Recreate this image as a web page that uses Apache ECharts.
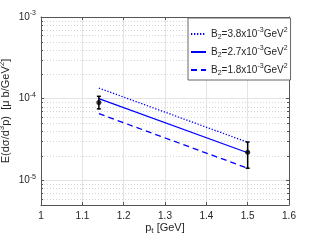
<!DOCTYPE html>
<html><head><meta charset="utf-8">
<script src="https://cdn.jsdelivr.net/npm/echarts@6/dist/echarts.min.js"></script>
<style>html,body{margin:0;padding:0;background:#fff}#c{width:320px;height:240px}</style>
</head><body><div id="c"></div>
<script>
// ---- data ----
const linePt = [1.14, 1.5];
const b38 = [1.35e-4, 2.93e-5];
const b27 = [1.0e-4, 2.18e-5];
const b18 = [6.56e-5, 1.41e-5];
const dataPt = [1.14, 1.5];
const dataVal = [9.0e-5, 2.21e-5];
const dataLo = [7.5e-5, 1.41e-5];
const dataHi = [1.07e-4, 2.95e-5];
const b2Labels = ['3.8', '2.7', '1.8'];
const xMin = 1, xMax = 1.6, xStep = 0.1;
const yMin = 5e-6, yMax = 1e-3;
const minorY = [6e-6, 7e-6, 8e-6, 9e-6,
  2e-5, 3e-5, 4e-5, 5e-5, 6e-5, 7e-5, 8e-5, 9e-5,
  2e-4, 3e-4, 4e-4, 5e-4, 6e-4, 7e-4, 8e-4, 9e-4];

const FONT = 'Liberation Sans';
const AX = '#555';
const TXT = '#262626';
const BLUE = '#0000ff';

const seriesNames = b2Labels.map(v => 'B2=' + v);
const richT = {
  b: {fontSize: 10, lineHeight: 14, fontFamily: FONT, color: TXT, verticalAlign: 'middle'},
  sub: {fontSize: 7, lineHeight: 7, fontFamily: FONT, color: TXT, verticalAlign: 'bottom'},
  sup: {fontSize: 7, lineHeight: 8, fontFamily: FONT, color: TXT, verticalAlign: 'top'},
  n: {fontSize: 11, lineHeight: 15, fontFamily: FONT, color: TXT, verticalAlign: 'middle'},
  nsub: {fontSize: 8, lineHeight: 7, fontFamily: FONT, color: TXT, verticalAlign: 'bottom'},
  nsup: {fontSize: 8, lineHeight: 9, fontFamily: FONT, color: TXT, verticalAlign: 'top'}
};

function mk(arr, xs) { return arr.map((v, i) => [xs[i], v]); }

const chart = echarts.init(document.getElementById('c'), null, {renderer: 'canvas'});
const option = {
  backgroundColor: '#fff',
  animation: false,
  textStyle: {fontFamily: FONT},
  grid: {left: 41, right: 31, top: 17, bottom: 35, containLabel: false, outerBoundsMode: 'none'},
  legend: {
    orient: 'vertical', left: 188, top: 18,
    padding: [9, 3, 3, 2], itemGap: 4,
    itemWidth: 15, itemHeight: 14,
    backgroundColor: '#fff', borderColor: '#666', borderWidth: 1,
    itemStyle: {opacity: 0},
    data: seriesNames,
    formatter: function (name) {
      const i = seriesNames.indexOf(name);
      return '{b|B}{sub|2}{b|=' + b2Labels[i] + 'x10}{sup|-3}{b|GeV}{sup|2}';
    },
    textStyle: {rich: richT}
  },
  xAxis: [{
    type: 'value', min: xMin, max: xMax, interval: xStep,
    name: '{n|p}{nsub|t}{n| [GeV]}', nameLocation: 'middle', nameGap: 15,
    nameMoveOverlap: false,
    nameTextStyle: {rich: richT},
    axisLine: {show: true, lineStyle: {color: AX, width: 1}},
    axisTick: {show: true, inside: true, length: 3, lineStyle: {color: AX}},
    axisLabel: {margin: 6, fontSize: 10, color: TXT, fontFamily: FONT},
    splitLine: {show: true, lineStyle: {color: '#e3e3e3', width: 1}}
  }, {
    type: 'value', min: xMin, max: xMax, interval: xStep, position: 'top',
    axisLine: {show: true, lineStyle: {color: AX, width: 1}},
    axisTick: {show: true, inside: true, length: 3, lineStyle: {color: AX}},
    axisLabel: {show: false}, splitLine: {show: false}
  }],
  yAxis: [{
    type: 'log', logBase: 10, min: yMin, max: yMax,
    name: '{n|E(dσ/d}{nsup|3}{n|p)  [μ b/GeV}{nsup|2}{n|]}',
    nameLocation: 'middle', nameGap: 28, nameRotate: 90,
    nameMoveOverlap: false,
    nameTextStyle: {rich: richT},
    axisLine: {show: true, lineStyle: {color: AX, width: 1}},
    axisTick: {show: true, inside: true, length: 3, lineStyle: {color: AX}},
    axisLabel: {
      margin: 5, color: TXT,
      formatter: function (v) {
        const e = Math.log10(v);
        if (Math.abs(e - Math.round(e)) > 1e-6) return '';
        return '{b|10}{sup|' + Math.round(e) + '}';
      },
      rich: richT
    },
    splitLine: {show: true, lineStyle: {color: '#e3e3e3', width: 1}}
  }, {
    type: 'log', logBase: 10, min: yMin, max: yMax, position: 'right',
    axisLine: {show: true, lineStyle: {color: AX, width: 1}},
    axisTick: {show: true, inside: true, length: 3, lineStyle: {color: AX}},
    axisLabel: {show: false}, splitLine: {show: false}
  }],
  series: [
    {
      type: 'custom', silent: true, xAxisIndex: 0, yAxisIndex: 0, z: 1,
      data: minorY.map(v => [xMin, v]),
      renderItem: function (params, api) {
        const v = api.value(1);
        const a = api.coord([xMin, v]);
        const b = api.coord([xMax, v]);
        const y = Math.round(a[1]) + 0.5;
        return {type: 'group', children: [
          {type: 'line', shape: {x1: a[0], y1: y, x2: b[0], y2: y},
           style: {stroke: '#d6d6d6', lineWidth: 1, lineDash: [1, 2]}},
          {type: 'line', shape: {x1: a[0], y1: y, x2: a[0] + 2, y2: y},
           style: {stroke: AX, lineWidth: 1}},
          {type: 'line', shape: {x1: b[0] - 2, y1: y, x2: b[0], y2: y},
           style: {stroke: AX, lineWidth: 1}}
        ]};
      }
    },
    {name: seriesNames[0], type: 'line', data: mk(b38, linePt), symbol: 'none', z: 3,
     lineStyle: {color: BLUE, width: 1.3, type: [1.3, 1.7]}, itemStyle: {color: BLUE}},
    {name: seriesNames[1], type: 'line', data: mk(b27, linePt), symbol: 'none', z: 3,
     lineStyle: {color: BLUE, width: 1.3, type: 'solid'}, itemStyle: {color: BLUE}},
    {name: seriesNames[2], type: 'line', data: mk(b18, linePt), symbol: 'none', z: 3,
     lineStyle: {color: BLUE, width: 1.3, type: [6, 4]}, itemStyle: {color: BLUE}},
    {
      type: 'custom', silent: true, z: 4,
      data: dataPt.map((x, i) => [x, dataVal[i], dataLo[i], dataHi[i]]),
      renderItem: function (params, api) {
        const x = api.value(0);
        const lo = api.coord([x, api.value(2)]);
        const hi = api.coord([x, api.value(3)]);
        const st = {stroke: '#000', lineWidth: 1.5};
        return {type: 'group', children: [
          {type: 'line', shape: {x1: lo[0], y1: lo[1], x2: hi[0], y2: hi[1]}, style: st},
          {type: 'line', shape: {x1: lo[0] - 2, y1: lo[1], x2: lo[0] + 2, y2: lo[1]}, style: st},
          {type: 'line', shape: {x1: hi[0] - 2, y1: hi[1], x2: hi[0] + 2, y2: hi[1]}, style: st}
        ]};
      }
    },
    {type: 'scatter', data: mk(dataVal, dataPt), symbol: 'circle', symbolSize: 5, z: 5,
     itemStyle: {color: '#000'}, silent: true}
  ]
};
chart.setOption(option);
</script></body></html>
